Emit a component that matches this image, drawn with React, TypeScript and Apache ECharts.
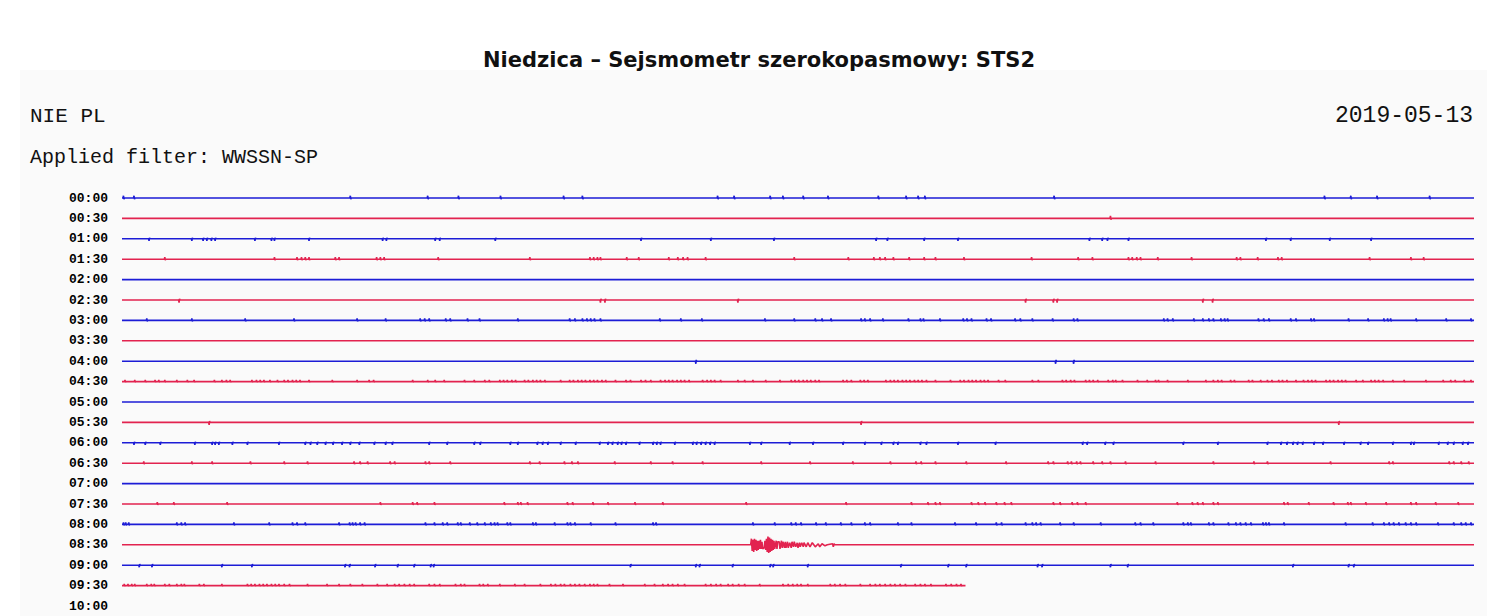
import { useEffect, useRef } from "react";
import * as echarts from "echarts";

// Row labels (start time of each 30-minute trace)
const timeLabels = [
  "00:00", "00:30", "01:00", "01:30", "02:00", "02:30", "03:00", "03:30", "04:00", "04:30",
  "05:00", "05:30", "06:00", "06:30", "07:00", "07:30", "08:00", "08:30", "09:00", "09:30", "10:00",
];

const titleText = "Niedzica – Sejsmometr szerokopasmowy: STS2";
const stationText = "NIE PL";
const filterText = "Applied filter: WWSSN-SP";
const dateText = "2019-05-13";

// colour of each trace (alternating)
const traceColors = [
  "blue", "red", "blue", "red", "blue", "red", "blue", "red", "blue", "red",
  "blue", "red", "blue", "red", "blue", "red", "blue", "red", "blue", "red",
];

// recorded length of each trace, seconds
const traceEnd = [
  1800, 1800, 1800, 1800, 1800, 1800, 1800, 1800, 1800, 1800,
  1800, 1800, 1800, 1800, 1800, 1800, 1800, 1800, 1800, 1123,
];

// small spike amplitude per trace (counts) and its main direction
const spikeAmp = [2.2, 2.5, 2, 2, 0, 2.5, 2, 0, 2.5, 1.6, 0, 2.5, 2, 1.8, 0, 1.8, 2, 0, 2, 1.6];
const spikeDir = [1, 1, -1, 1, 0, -1, 1, 0, -1, 1, 0, -1, -1, 1, 0, 1, 1, 0, -1, 1];

// spike times (seconds from start of each trace)
const spikes0 = [2, 16, 304, 407, 448, 504, 588, 613, 793, 815, 863, 880, 907, 940, 1007, 1044, 1060, 1069, 1241, 1601, 1636, 1671, 1741];
const spikes1 = [1316];
const spikes2 = [36, 93, 108, 113, 119, 124, 177, 199, 203, 249, 347, 352, 417, 423, 497, 691, 784, 868, 1004, 1019, 1068, 1113, 1288, 1305, 1312, 1340, 1523, 1556, 1608, 1663];
const spikes3 = [57, 203, 233, 239, 244, 249, 284, 289, 339, 344, 349, 421, 543, 623, 628, 633, 637, 672, 688, 728, 740, 747, 753, 777, 895, 967, 1001, 1009, 1016, 1027, 1048, 1068, 1083, 1121, 1211, 1273, 1292, 1340, 1345, 1351, 1356, 1379, 1424, 1484, 1489, 1512, 1539, 1544, 1661, 1716, 1733];
const spikes4: number[] = [];
const spikes5 = [76, 637, 643, 820, 1203, 1240, 1245, 1439, 1452];
const spikes6 = [33, 93, 164, 229, 313, 351, 397, 403, 409, 431, 437, 460, 476, 527, 596, 603, 613, 619, 624, 629, 637, 716, 744, 772, 856, 895, 923, 932, 944, 984, 989, 996, 1013, 1047, 1063, 1067, 1089, 1120, 1125, 1131, 1151, 1157, 1189, 1196, 1212, 1239, 1267, 1272, 1387, 1392, 1399, 1427, 1439, 1447, 1453, 1463, 1468, 1472, 1513, 1520, 1527, 1556, 1563, 1583, 1587, 1633, 1659, 1680, 1685, 1689, 1723, 1763, 1796];
const spikes7: number[] = [];
const spikes8 = [764, 1243, 1267];
const spikes9 = [4, 17, 31, 44, 49, 57, 73, 87, 96, 123, 133, 139, 144, 173, 179, 184, 189, 197, 207, 216, 221, 227, 232, 237, 249, 280, 313, 329, 335, 387, 407, 417, 429, 456, 469, 483, 489, 503, 508, 513, 519, 524, 536, 541, 547, 552, 557, 563, 584, 596, 601, 607, 612, 617, 623, 628, 633, 639, 644, 657, 671, 677, 691, 697, 704, 717, 723, 728, 733, 739, 744, 749, 755, 773, 779, 784, 789, 797, 820, 829, 840, 857, 876, 891, 896, 901, 907, 912, 917, 923, 928, 960, 965, 971, 983, 988, 993, 1017, 1023, 1028, 1033, 1039, 1044, 1049, 1055, 1060, 1065, 1071, 1083, 1103, 1116, 1121, 1127, 1132, 1137, 1143, 1148, 1153, 1167, 1176, 1212, 1220, 1252, 1257, 1263, 1268, 1283, 1288, 1293, 1299, 1313, 1319, 1323, 1332, 1352, 1365, 1376, 1380, 1392, 1419, 1443, 1453, 1459, 1464, 1476, 1481, 1500, 1505, 1516, 1525, 1531, 1540, 1545, 1551, 1563, 1573, 1579, 1584, 1589, 1603, 1608, 1613, 1619, 1624, 1629, 1643, 1652, 1663, 1668, 1673, 1679, 1692, 1707, 1736, 1759, 1769, 1775, 1787, 1796];
const spikes10: number[] = [];
const spikes11 = [116, 984, 1620];
const spikes12 = [16, 31, 51, 97, 120, 124, 129, 147, 167, 209, 244, 251, 260, 271, 281, 293, 304, 316, 336, 351, 360, 409, 433, 469, 477, 517, 527, 553, 560, 567, 584, 604, 636, 647, 653, 660, 665, 671, 689, 707, 712, 717, 736, 760, 765, 771, 777, 783, 789, 836, 851, 889, 920, 960, 989, 1011, 1027, 1033, 1063, 1071, 1113, 1163, 1279, 1285, 1309, 1320, 1413, 1459, 1525, 1543, 1551, 1559, 1565, 1572, 1587, 1599, 1627, 1649, 1659, 1692, 1716, 1720, 1753, 1765, 1773, 1785, 1792];
const spikes13 = [29, 93, 120, 171, 216, 247, 309, 317, 327, 357, 363, 404, 409, 437, 543, 556, 589, 599, 607, 656, 704, 733, 773, 851, 916, 973, 1023, 1057, 1064, 1083, 1124, 1177, 1233, 1240, 1259, 1264, 1271, 1276, 1293, 1305, 1316, 1336, 1376, 1453, 1507, 1525, 1609, 1687, 1692, 1767, 1773, 1783, 1793];
const spikes14: number[] = [];
const spikes15 = [47, 69, 140, 344, 387, 393, 416, 509, 527, 531, 540, 593, 600, 627, 647, 683, 720, 831, 964, 1051, 1073, 1083, 1089, 1131, 1140, 1149, 1164, 1175, 1184, 1240, 1249, 1265, 1272, 1283, 1405, 1425, 1432, 1439, 1453, 1459, 1547, 1552, 1580, 1613, 1632, 1636, 1656, 1683, 1716, 1723, 1749, 1779];
const spikes16 = [2, 5, 9, 73, 79, 84, 149, 196, 227, 233, 244, 289, 303, 307, 311, 317, 323, 404, 416, 427, 433, 447, 451, 463, 473, 483, 491, 496, 500, 513, 517, 547, 551, 576, 593, 597, 603, 624, 657, 707, 711, 840, 869, 891, 897, 904, 924, 937, 957, 971, 989, 996, 1033, 1051, 1109, 1137, 1164, 1171, 1203, 1212, 1217, 1223, 1249, 1267, 1303, 1349, 1356, 1373, 1413, 1419, 1423, 1447, 1453, 1473, 1483, 1489, 1496, 1503, 1519, 1523, 1527, 1547, 1629, 1665, 1680, 1687, 1693, 1700, 1709, 1716, 1723, 1752, 1773, 1783, 1789, 1796];
const spikes17: number[] = [];
const spikes18 = [23, 40, 133, 173, 297, 303, 337, 367, 389, 411, 415, 677, 764, 769, 813, 863, 867, 913, 1037, 1100, 1124, 1219, 1225, 1316, 1339, 1559, 1633, 1640];
const spikes19 = [3, 8, 13, 17, 33, 39, 43, 57, 63, 73, 79, 83, 103, 109, 133, 167, 172, 177, 183, 188, 193, 199, 204, 209, 216, 223, 247, 273, 289, 304, 320, 340, 353, 363, 369, 376, 383, 389, 409, 416, 423, 444, 451, 456, 476, 481, 487, 503, 523, 536, 557, 571, 577, 584, 589, 597, 603, 609, 616, 623, 628, 633, 649, 667, 696, 709, 720, 727, 733, 740, 749, 777, 784, 791, 797, 807, 813, 821, 829, 849, 880, 887, 893, 899, 904, 913, 943, 949, 956, 963, 983, 996, 1003, 1009, 1016, 1023, 1029, 1036, 1043, 1056, 1063, 1069, 1077, 1097, 1104, 1111, 1117];

const spikeLists = [
  spikes0, spikes1, spikes2, spikes3, spikes4, spikes5, spikes6, spikes7, spikes8, spikes9,
  spikes10, spikes11, spikes12, spikes13, spikes14, spikes15, spikes16, spikes17, spikes18, spikes19,
];

// earthquake record on the 08:30 trace: time (s) and displacement (counts, + = up)
const eventTrace = 17;
const eventTimes = [837, 838, 839, 840, 841, 842, 843, 844, 845, 846, 847, 848, 849, 850, 851, 852, 853, 855, 856, 857, 858, 859, 860, 861, 862, 863, 864, 865, 866, 867, 868, 869, 871, 872, 873, 875, 876, 878, 879, 880, 882, 883, 884, 886, 887, 889, 891, 892, 894, 895, 897, 899, 900, 902, 903, 905, 907, 908, 911, 913, 916, 919, 923, 927, 929, 932, 936, 939, 946, 947, 948, 949];
const eventValues = [0, 6, -6, 5, -7, 6, -5, 5, -6, 4, -5, 4, -4, 5, -4, 3, -4, -3, 4, -5, 6, -7, 8, -8, 7, -7, 6, -6, 5, -5, 4, -4, 4, -4, 3, 3, -4, 4, -3, 3, -3, 3, -3, 3, -3, 2, -3, 3, -2, 3, -2, 2, -3, 2, -2, 2, -2, 2, -2, 2, -2, 2, -2, 1, -2, 1, -1, 0, 1, -2, 1, 0];

const ROW = 20; // counts between traces
const COLORS: Record<string, string> = { blue: "#1c1cd6", red: "#e2234f" };

function buildTrace(i: number): number[][] {
  const base = i * ROW;
  const pts: number[][] = [[0, base]];
  const a = spikeAmp[i] * spikeDir[i];
  const list = [...spikeLists[i]].sort((p, q) => p - q);
  for (const s of list) {
    pts.push([s - 0.6, base], [s, base - a], [s + 0.6, base + a * 0.5], [s + 1.2, base]);
  }
  if (i === eventTrace) {
    eventTimes.forEach((t, k) => pts.push([t, base - eventValues[k]]));
  }
  pts.sort((p, q) => p[0] - q[0]);
  pts.push([traceEnd[i], base]);
  return pts;
}

export default function App() {
  const ref = useRef<HTMLDivElement>(null);
  useEffect(() => {
    if (!ref.current) return;
    const chart = echarts.init(ref.current, undefined, { renderer: "svg" });
    const series = traceColors.map((c, i) => ({
      type: "line" as const,
      data: buildTrace(i),
      showSymbol: false,
      symbol: "none",
      clip: false,
      silent: true,
      z: 5,
      lineStyle: { color: COLORS[c], width: 1.6 },
    }));
    chart.setOption({
      animation: false,
      backgroundColor: "#ffffff",
      title: {
        text: titleText,
        left: 754,
        textAlign: "center",
        top: 44,
        textStyle: { fontFamily: "'DejaVu Sans', Verdana, sans-serif", fontWeight: "bold", fontSize: 21, color: "#111" },
      },
      grid: { left: 122, right: 26, top: 198, bottom: 10 },
      xAxis: { type: "value", min: 0, max: 1800, show: false },
      yAxis: {
        type: "value",
        min: 0,
        max: ROW * 20,
        interval: ROW,
        inverse: true,
        axisLine: { show: false },
        axisTick: { show: false },
        splitLine: { show: false },
        axisLabel: {
          margin: 14,
          fontFamily: "'Liberation Mono', monospace",
          fontWeight: "bold",
          fontSize: 13,
          color: "#000",
          formatter: (v: number) => timeLabels[Math.round(v / ROW)] ?? "",
        },
      },
      graphic: [
        { type: "rect", z: -10, silent: true, shape: { x: 20, y: 70, width: 1467, height: 546 }, style: { fill: "#fafafa" } },
        { type: "text", x: 30, y: 116, style: { text: stationText, font: "21px 'Liberation Mono', monospace", fill: "#111", verticalAlign: "middle" } },
        { type: "text", x: 30, y: 157, style: { text: filterText, font: "20px 'Liberation Mono', monospace", fill: "#111", verticalAlign: "middle" } },
        { type: "text", x: 1473, y: 116, style: { text: dateText, font: "23px 'Liberation Mono', monospace", fill: "#111", align: "right", verticalAlign: "middle" } },
      ],
      series,
    });
    return () => chart.dispose();
  }, []);
  return <div ref={ref} style={{ position: "absolute", left: 0, top: 0, width: 1500, height: 616 }} />;
}
